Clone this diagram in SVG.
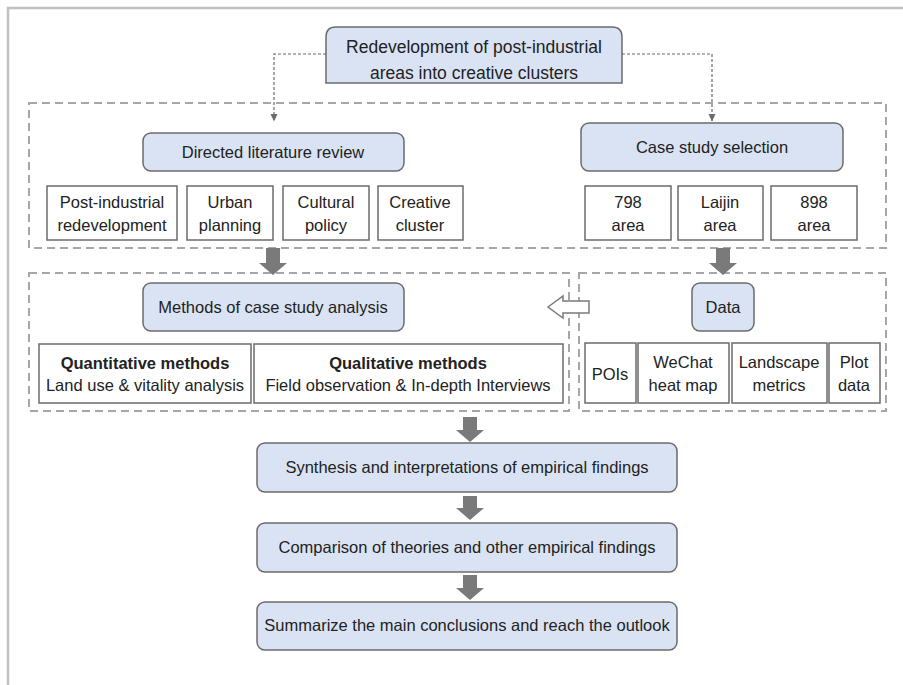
<svg xmlns="http://www.w3.org/2000/svg" width="903" height="685" viewBox="0 0 903 685">
<defs>
<style>
text{font-family:"Liberation Sans",Arial,sans-serif;font-size:16.5px;fill:#222;text-anchor:middle}
.big{font-size:17.5px}
.b{font-weight:bold}
.main{fill:#dae3f3;stroke:#6b6b6b;stroke-width:1.5}
.sub{fill:#fff;stroke:#6b6b6b;stroke-width:1.5}
.grp{fill:none;stroke:#a6a6a6;stroke-width:2;stroke-dasharray:8 5}
.blk{fill:#7a7a7a;stroke:none}
.dot{fill:none;stroke:#6b6b6b;stroke-width:1.2;stroke-dasharray:3 2}
</style>
<marker id="ah" markerWidth="8" markerHeight="8" refX="7" refY="4" orient="auto" markerUnits="userSpaceOnUse">
<path d="M0,0.5 L7.5,4 L0,7.5 Z" fill="#6b6b6b"/>
</marker>
</defs>
<rect width="903" height="685" fill="#fff"/>
<path d="M8,685 V8 H903" fill="none" stroke="#c0c0c0" stroke-width="2.5"/>

<g id="groups">
<rect class="grp" x="29" y="103" width="857" height="145"/>
<rect class="grp" x="29" y="273" width="540" height="138"/>
<rect class="grp" x="579" y="273" width="307" height="138"/>
</g>

<g id="connectors">
<path class="dot" d="M326,54 H274 V121" marker-end="url(#ah)"/>
<path class="dot" d="M622,54 H712 V121" marker-end="url(#ah)"/>
<path class="blk" d="M266,248 H280 V263 H287 L273,275 L259,263 H266 Z"/>
<path class="blk" d="M716,248 H730 V263 H737 L723,275 L709,263 H716 Z"/>
<path d="M548,307 L563,296 V301 H589 V313 H563 V318 Z" fill="#fff" stroke="#7a7a7a" stroke-width="1.5"/>
<path class="blk" d="M463,417 H477 V430 H484 L470,442 L456,430 H463 Z"/>
<path class="blk" d="M463,496 H477 V508 H484 L470,520 L456,508 H463 Z"/>
<path class="blk" d="M463,575 H477 V588 H484 L470,600 L456,588 H463 Z"/>
</g>

<g id="top">
<path class="main" d="M326,83 V37 Q326,27 336,27 H612 Q622,27 622,37 V83 Z"/>
<text class="big" x="474" y="53">Redevelopment of post-industrial</text>
<text class="big" x="474" y="79">areas into creative clusters</text>
</g>

<g id="lit">
<rect class="main" x="143" y="133" width="261" height="38" rx="8"/>
<text x="273" y="158">Directed literature review</text>
</g>
<g id="case">
<rect class="main" x="581" y="123" width="262" height="48" rx="8"/>
<text x="712" y="153">Case study selection</text>
</g>

<g id="lit-post"><rect class="sub" x="47" y="186" width="130" height="54"/><text x="112" y="208">Post-industrial</text><text x="112" y="231">redevelopment</text></g>
<g id="lit-urban"><rect class="sub" x="187" y="186" width="86" height="54"/><text x="230" y="208">Urban</text><text x="230" y="231">planning</text></g>
<g id="lit-cult"><rect class="sub" x="283" y="186" width="86" height="54"/><text x="326" y="208">Cultural</text><text x="326" y="231">policy</text></g>
<g id="lit-creat"><rect class="sub" x="378" y="186" width="85" height="54"/><text x="420" y="208">Creative</text><text x="420" y="231">cluster</text></g>
<g id="case-798"><rect class="sub" x="585" y="186" width="86" height="54"/><text x="628" y="208">798</text><text x="628" y="231">area</text></g>
<g id="case-laijin"><rect class="sub" x="678" y="186" width="85" height="54"/><text x="720" y="208">Laijin</text><text x="720" y="231">area</text></g>
<g id="case-898"><rect class="sub" x="771" y="186" width="86" height="54"/><text x="814" y="208">898</text><text x="814" y="231">area</text></g>

<g id="methods">
<rect class="main" x="143" y="283" width="261" height="48" rx="8"/>
<text x="273" y="313">Methods of case study analysis</text>
</g>
<g id="quant"><rect class="sub" x="39" y="344" width="212" height="59"/><text class="b" x="145" y="369">Quantitative methods</text><text x="145" y="391">Land use &amp; vitality analysis</text></g>
<g id="qual"><rect class="sub" x="254" y="344" width="309" height="59"/><text class="b" x="408" y="369">Qualitative methods</text><text x="408" y="391">Field observation &amp; In-depth Interviews</text></g>

<g id="data">
<rect class="main" x="692" y="283" width="62" height="48" rx="8"/>
<text x="723" y="313">Data</text>
</g>
<g id="d-poi"><rect class="sub" x="585" y="343" width="51" height="60"/><text x="610" y="380">POIs</text></g>
<g id="d-wechat"><rect class="sub" x="638" y="343" width="91" height="60"/><text x="683" y="368">WeChat</text><text x="683" y="391">heat map</text></g>
<g id="d-land"><rect class="sub" x="732" y="343" width="95" height="60"/><text x="779" y="368">Landscape</text><text x="779" y="391">metrics</text></g>
<g id="d-plot"><rect class="sub" x="829" y="343" width="51" height="60"/><text x="854" y="368">Plot</text><text x="854" y="391">data</text></g>

<g id="synth"><rect class="main" x="257" y="443" width="420" height="49" rx="8"/><text x="467" y="473">Synthesis and interpretations of empirical findings</text></g>
<g id="comp"><rect class="main" x="257" y="523" width="420" height="49" rx="8"/><text x="467" y="553">Comparison of theories and other empirical findings</text></g>
<g id="summ"><rect class="main" x="257" y="602" width="420" height="48" rx="8"/><text x="467" y="631">Summarize the main conclusions and reach the outlook</text></g>
</svg>
